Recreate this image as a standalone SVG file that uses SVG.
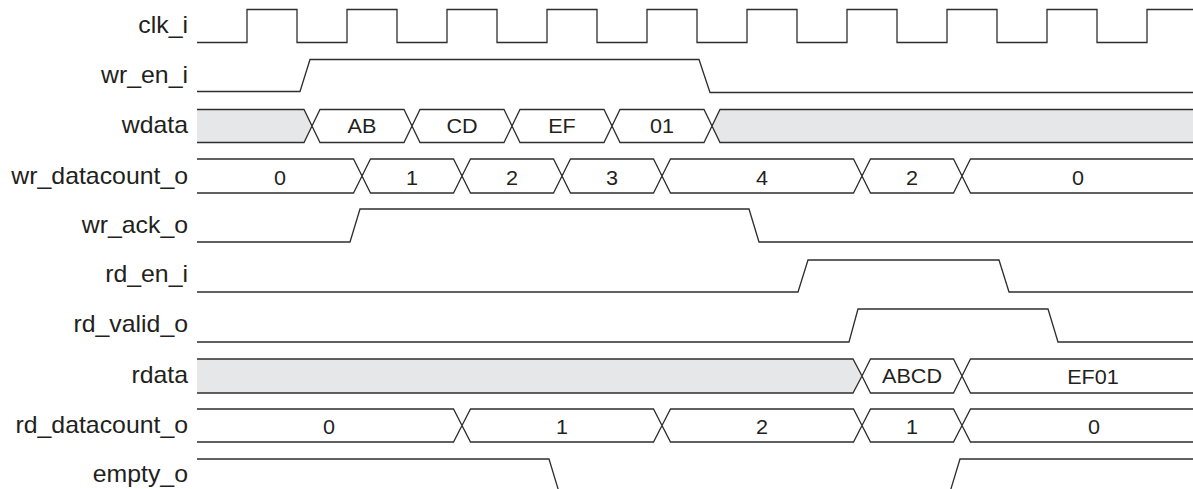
<svg xmlns="http://www.w3.org/2000/svg" width="1193" height="489" viewBox="0 0 1193 489">
<style>
.w{fill:none;stroke:#2e2e2e;stroke-width:1.3;stroke-linejoin:miter}
.g{fill:#e6e7e8;stroke:none}
.lbl{font-family:"Liberation Sans",Arial,sans-serif;font-size:23px;fill:#231f20;text-anchor:end}
.val{font-family:"Liberation Sans",Arial,sans-serif;font-size:20px;fill:#231f20;text-anchor:middle}
</style>
<rect width="1193" height="489" fill="#ffffff"/>
<g id="clk_i">
<text class="lbl" transform="translate(188,33) scale(1.08,1)">clk_i</text>
</g>
<g id="wr_en_i">
<text class="lbl" transform="translate(188,83) scale(1.08,1)">wr_en_i</text>
</g>
<g id="wdata">
<text class="lbl" transform="translate(188,133) scale(1.08,1)">wdata</text>
<polygon class="g" points="197,109.5 304,109.5 312,126 304,142.5 197,142.5"/>
<polygon class="g" points="1193,109.5 720,109.5 712,126 720,142.5 1193,142.5"/>
<text class="val" transform="translate(362,133) scale(1.08,1)">AB</text>
<text class="val" transform="translate(462,133) scale(1.08,1)">CD</text>
<text class="val" transform="translate(562,133) scale(1.08,1)">EF</text>
<text class="val" transform="translate(662,133) scale(1.08,1)">01</text>
</g>
<g id="wr_datacount_o">
<text class="lbl" transform="translate(188,184) scale(1.08,1)">wr_datacount_o</text>
<text class="val" transform="translate(280,185) scale(1.08,1)">0</text>
<text class="val" transform="translate(412,185) scale(1.08,1)">1</text>
<text class="val" transform="translate(512,185) scale(1.08,1)">2</text>
<text class="val" transform="translate(612,185) scale(1.08,1)">3</text>
<text class="val" transform="translate(762,185) scale(1.08,1)">4</text>
<text class="val" transform="translate(912,185) scale(1.08,1)">2</text>
<text class="val" transform="translate(1078,185) scale(1.08,1)">0</text>
</g>
<g id="wr_ack_o">
<text class="lbl" transform="translate(188,233) scale(1.08,1)">wr_ack_o</text>
</g>
<g id="rd_en_i">
<text class="lbl" transform="translate(188,282) scale(1.08,1)">rd_en_i</text>
</g>
<g id="rd_valid_o">
<text class="lbl" transform="translate(188,332) scale(1.08,1)">rd_valid_o</text>
</g>
<g id="rdata">
<text class="lbl" transform="translate(188,383) scale(1.08,1)">rdata</text>
<polygon class="g" points="197,359 853,359 862,376 853,393 197,393"/>
<text class="val" transform="translate(912,383) scale(1.08,1)">ABCD</text>
<text class="val" transform="translate(1093,384) scale(1.08,1)">EF01</text>
</g>
<g id="rd_datacount_o">
<text class="lbl" transform="translate(188,433) scale(1.08,1)">rd_datacount_o</text>
<text class="val" transform="translate(329,434) scale(1.08,1)">0</text>
<text class="val" transform="translate(562,434) scale(1.08,1)">1</text>
<text class="val" transform="translate(762,434) scale(1.08,1)">2</text>
<text class="val" transform="translate(912,434) scale(1.08,1)">1</text>
<text class="val" transform="translate(1094,434) scale(1.08,1)">0</text>
</g>
<g id="empty_o">
<text class="lbl" transform="translate(188,482) scale(1.08,1)">empty_o</text>
</g>
<g id="waveforms">
<path class="w" d="M197,42.5 H247 V9.5 H297 V42.5 H347 V9.5 H397 V42.5 H447 V9.5 H497 V42.5 H547 V9.5 H597 V42.5 H647 V9.5 H697 V42.5 H747 V9.5 H797 V42.5 H847 V9.5 H897 V42.5 H947 V9.5 H997 V42.5 H1047 V9.5 H1097 V42.5 H1147 V9.5 H1193"/>
<path class="w" d="M197,91.5 H300 L310,59.5 H699 L710,92.5 H1193"/>
<path class="w" d="M197,109.5 H304 L312,126 L304,142.5 H197 M1193,109.5 H720 L712,126 L720,142.5 H1193 M312,126 L320,109.5 H404 L412,126 L404,142.5 H320 Z M412,126 L420,109.5 H504 L512,126 L504,142.5 H420 Z M512,126 L520,109.5 H604 L612,126 L604,142.5 H520 Z M612,126 L620,109.5 H704 L712,126 L704,142.5 H620 Z"/>
<path class="w" d="M197,159 H353.5 L362,176 L353.5,193 H197 M362,176 L370.5,159 H453.5 L462,176 L453.5,193 H370.5 Z M462,176 L470.5,159 H553.5 L562,176 L553.5,193 H470.5 Z M562,176 L570.5,159 H653.5 L662,176 L653.5,193 H570.5 Z M662,176 L670.5,159 H853.5 L862,176 L853.5,193 H670.5 Z M862,176 L870.5,159 H953.5 L962,176 L953.5,193 H870.5 Z M1193,159 H970.5 L962,176 L970.5,193 H1193"/>
<path class="w" d="M197,242 H350 L360,209 H749 L759,242 H1193"/>
<path class="w" d="M197,292 H798 L808,260 H999 L1009,292 H1193"/>
<path class="w" d="M197,342 H849 L858,309 H1048 L1058,342 H1193"/>
<path class="w" d="M197,359 H853 L862,376 L853,393 H197 M862,376 L870.5,359 H953.5 L962,376 L953.5,393 H870.5 Z M1193,359 H970.5 L962,376 L970.5,393 H1193"/>
<path class="w" d="M197,409 H453.5 L462,425.5 L453.5,442 H197 M462,425.5 L470.5,409 H653.5 L662,425.5 L653.5,442 H470.5 Z M662,425.5 L670.5,409 H853.5 L862,425.5 L853.5,442 H670.5 Z M862,425.5 L870.5,409 H953.5 L962,425.5 L953.5,442 H870.5 Z M1193,409 H970.5 L962,425.5 L970.5,442 H1193"/>
<path class="w" d="M197,459 H549 L559,492 H950 L960,459 H1193"/>
</g>
</svg>
